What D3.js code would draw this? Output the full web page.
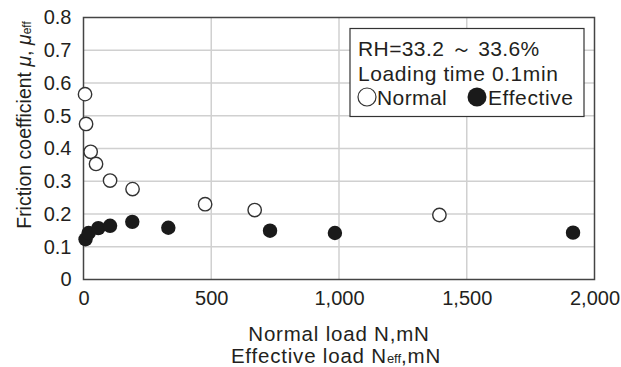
<!DOCTYPE html>
<html><head><meta charset="utf-8">
<script src="https://cdn.jsdelivr.net/npm/d3@7"></script>
<style>body{margin:0;background:#fff}svg{display:block}text{font-family:"Liberation Sans",Arial,sans-serif;fill:#231f20}</style>
</head><body><svg id="c" width="621" height="367"></svg>
<script>
const normalX = [6, 10, 28, 49, 104, 192, 476, 670, 1393];
const normalY = [0.566, 0.475, 0.390, 0.353, 0.302, 0.276, 0.230, 0.212, 0.197];
const effX = [8, 20, 58, 104, 191, 332, 730, 984, 1916];
const effY = [0.123, 0.142, 0.157, 0.164, 0.176, 0.158, 0.149, 0.142, 0.143];
const xTicks = [0, 500, 1000, 1500, 2000];
const yTicks = [0, 0.1, 0.2, 0.3, 0.4, 0.5, 0.6, 0.7, 0.8];

const svg = d3.select("#c");
const L = 83.5, R = 594.5, T = 17.5, B = 279.5;
const x = d3.scaleLinear().domain([0, 2000]).range([L, R]);
const y = d3.scaleLinear().domain([0, 0.8]).range([B, T]);

// grid
svg.append("g").selectAll("line").data(yTicks.slice(1, -1)).join("line")
  .attr("x1", L).attr("x2", R).attr("y1", d => y(d)).attr("y2", d => y(d))
  .attr("stroke", "#d0d0d0").attr("stroke-width", 1.5);
svg.append("g").selectAll("line").data(xTicks.slice(1, -1)).join("line")
  .attr("y1", T).attr("y2", B).attr("x1", d => x(d)).attr("x2", d => x(d))
  .attr("stroke", "#d0d0d0").attr("stroke-width", 1.5);
svg.append("rect").attr("x", L).attr("y", T).attr("width", R - L).attr("height", B - T)
  .attr("fill", "none").attr("stroke", "#444").attr("stroke-width", 1.5);

// axes
const fmt = d3.format(",");
const xAxis = svg.append("g").attr("transform", `translate(0,${B})`)
  .call(d3.axisBottom(x).tickValues(xTicks).tickSize(0).tickPadding(11).tickFormat(fmt));
xAxis.select(".domain").remove();
xAxis.selectAll("text").attr("font-size", 20).attr("fill", "#231f20");
const yAxis = svg.append("g").attr("transform", `translate(${L},0)`)
  .call(d3.axisLeft(y).tickValues(yTicks).tickSize(0).tickPadding(12).tickFormat(d => d === 0 ? "0" : d3.format(".1f")(d)));
yAxis.select(".domain").remove();
yAxis.selectAll("text").attr("font-size", 20).attr("fill", "#231f20");

// points
svg.append("g").selectAll("circle").data(normalX.map((d, i) => [d, normalY[i]])).join("circle")
  .attr("cx", d => x(d[0])).attr("cy", d => y(d[1])).attr("r", 6.7)
  .attr("fill", "#fff").attr("stroke", "#333").attr("stroke-width", 1.4);
svg.append("g").selectAll("circle").data(effX.map((d, i) => [d, effY[i]])).join("circle")
  .attr("cx", d => x(d[0])).attr("cy", d => y(d[1])).attr("r", 7.2)
  .attr("fill", "#1a1a1a");

// legend
const lg = svg.append("g");
lg.append("rect").attr("x", 350).attr("y", 28.5).attr("width", 234).attr("height", 88)
  .attr("fill", "#fff").attr("stroke", "#333").attr("stroke-width", 1.2);
lg.append("text").attr("x", 358).attr("y", 56).attr("font-size", 21).attr("letter-spacing", 0.4).text("RH=33.2 ～ 33.6%");
lg.append("text").attr("x", 358).attr("y", 81).attr("font-size", 21).attr("letter-spacing", 0.6).text("Loading time 0.1min");
lg.append("circle").attr("cx", 367).attr("cy", 97).attr("r", 9).attr("fill", "#fff").attr("stroke", "#333").attr("stroke-width", 1.2);
lg.append("text").attr("x", 377).attr("y", 105).attr("font-size", 21).attr("letter-spacing", 0.4).text("Normal");
lg.append("circle").attr("cx", 477).attr("cy", 97).attr("r", 9.5).attr("fill", "#1a1a1a");
lg.append("text").attr("x", 488).attr("y", 105).attr("font-size", 21).attr("letter-spacing", 0.6).text("Effective");

// axis titles
svg.append("text").attr("x", 339).attr("y", 341).attr("text-anchor", "middle").attr("font-size", 20.5).attr("letter-spacing", 0.8).text("Normal load N,mN");
const t2 = svg.append("text").attr("x", 336).attr("y", 363).attr("text-anchor", "middle").attr("font-size", 20.5).attr("letter-spacing", 0.8);
t2.append("tspan").text("Effective load N");
t2.append("tspan").attr("font-size", 13).attr("letter-spacing", 0).text("eff");
t2.append("tspan").text(",mN");

const yt = svg.append("text").attr("transform", "translate(31,125) rotate(-90)").attr("text-anchor", "middle").attr("font-size", 19.5);
yt.append("tspan").text("Friction coefficient ");
yt.append("tspan").attr("font-style", "italic").text("μ");
yt.append("tspan").text(",  ");
yt.append("tspan").attr("font-style", "italic").text("μ");
yt.append("tspan").attr("font-size", 12).text("eff");
</script></body></html>
